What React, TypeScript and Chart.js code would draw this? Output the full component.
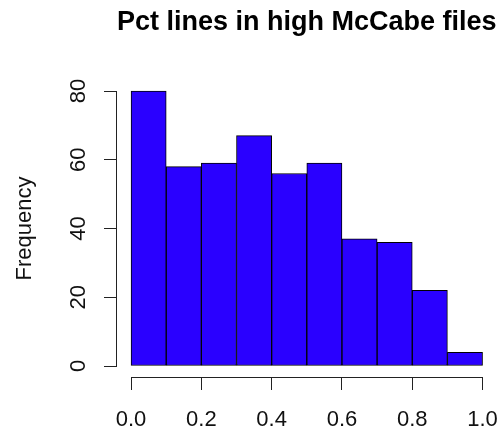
import React, { useEffect, useRef } from "react";
import { Chart, registerables } from "chart.js";

Chart.register(...registerables);

const binStarts = [0.0, 0.1, 0.2, 0.3, 0.4, 0.5, 0.6, 0.7, 0.8, 0.9];
const binWidth = 0.1;
const frequencies = [80, 58, 59, 67, 56, 59, 37, 36, 22, 4];
const xTickValues = [0, 0.2, 0.4, 0.6, 0.8, 1.0];
const xTickLabels = ["0.0", "0.2", "0.4", "0.6", "0.8", "1.0"];
const yTickValues = [0, 20, 40, 60, 80];
const yTickLabels = ["0", "20", "40", "60", "80"];
const chartTitle = "Pct lines in high McCabe files";
const yAxisTitle = "Frequency";

const FONT = "'Liberation Sans', Arial, Helvetica, sans-serif";
const align = (p: number) => Math.round(p - 0.5) + 0.5;

export default function App() {
  const ref = useRef<HTMLCanvasElement>(null);

  useEffect(() => {
    const canvas = ref.current;
    if (!canvas) return;

    const axisPlugin = {
      id: "rStyleAxes",
      afterDraw(chart: any) {
        const { ctx, chartArea } = chart;
        const xs = chart.scales.x;
        const ys = chart.scales.y;
        ctx.save();
        ctx.strokeStyle = "#222";
        ctx.lineWidth = 1;
        // x axis line from first to last tick
        const yLine = Math.round(chartArea.bottom) + 0.5;
        ctx.beginPath();
        ctx.moveTo(align(xs.getPixelForValue(xTickValues[0])), yLine);
        ctx.lineTo(align(xs.getPixelForValue(xTickValues[xTickValues.length - 1])), yLine);
        ctx.stroke();
        // y axis line from first to last tick
        const xLine = Math.round(chartArea.left) - 0.5;
        ctx.beginPath();
        ctx.moveTo(xLine, align(ys.getPixelForValue(yTickValues[0])));
        ctx.lineTo(xLine, align(ys.getPixelForValue(yTickValues[yTickValues.length - 1])));
        ctx.stroke();
        // rotated y tick labels
        ctx.fillStyle = "#111";
        ctx.font = `22px ${FONT}`;
        ctx.textAlign = "center";
        ctx.textBaseline = "middle";
        yTickValues.forEach((v, i) => {
          ctx.save();
          ctx.translate(chartArea.left - 38, ys.getPixelForValue(v));
          ctx.rotate(-Math.PI / 2);
          ctx.fillText(yTickLabels[i], 0, 0);
          ctx.restore();
        });
        ctx.restore();
      },
    };

    const chart = new Chart(canvas, {
      type: "bar",
      data: {
        datasets: [
          {
            data: binStarts.map((s, i) => ({ x: s + binWidth / 2, y: frequencies[i] })),
            backgroundColor: "#2A00FF",
            borderColor: "#000",
            borderWidth: 1,
            borderSkipped: false,
            barPercentage: 1,
            categoryPercentage: 1,
          } as any,
        ],
      },
      options: {
        responsive: false,
        animation: false,
        layout: { padding: { left: 0, right: 4, top: 0, bottom: 0 } },
        plugins: {
          legend: { display: false },
          tooltip: { enabled: false },
          title: {
            display: true,
            text: chartTitle,
            fullSize: false,
            color: "#000",
            font: { family: FONT, size: 27, weight: "bold", lineHeight: 1.2 },
            padding: { top: 6, bottom: 41.6 },
          },
        },
        scales: {
          x: {
            type: "linear",
            min: -0.04,
            max: 1.04,
            offset: false,
            afterBuildTicks: (s: any) => {
              s.ticks = xTickValues.map((v) => ({ value: v }));
            },
            afterFit: (s: any) => {
              s.height = 57;
            },
            ticks: {
              callback: (_v: any, i: number) => xTickLabels[i],
              font: { family: FONT, size: 22, lineHeight: 54 / 22 },
              color: "#111",
              maxRotation: 0,
              minRotation: 0,
              autoSkip: false,
              padding: 3,
            },
            grid: {
              display: true,
              offset: false,
              drawOnChartArea: false,
              drawTicks: true,
              tickLength: 13,
              color: "#222",
              lineWidth: 1,
            },
            border: { display: false },
          },
          y: {
            type: "linear",
            min: -3.2,
            max: 83.2,
            afterBuildTicks: (s: any) => {
              s.ticks = yTickValues.map((v) => ({ value: v }));
            },
            afterFit: (s: any) => {
              s.width = 117;
            },
            ticks: { display: false },
            grid: {
              display: true,
              drawOnChartArea: false,
              drawTicks: true,
              tickLength: 13,
              color: "#222",
              lineWidth: 1,
            },
            border: { display: false },
            title: {
              display: true,
              text: yAxisTitle,
              color: "#111",
              font: { family: FONT, size: 22 },
              padding: { top: 12, bottom: 0 },
            },
          },
        },
      } as any,
      plugins: [axisPlugin],
    });

    return () => chart.destroy();
  }, []);

  return (
    <div style={{ position: "absolute", left: 0, top: 0, width: 501, height: 434 }}>
      <canvas ref={ref} width={501} height={434} style={{ display: "block" }} />
    </div>
  );
}
